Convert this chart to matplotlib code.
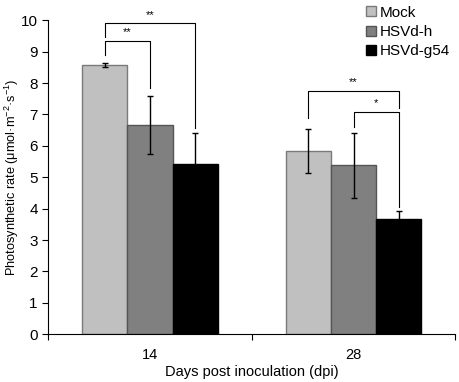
import matplotlib
matplotlib.use('Agg')
from matplotlib import pyplot as plt
import numpy as np

plt.rcParams['font.family'] = ['Liberation Sans', 'DejaVu Sans']
plt.rcParams['mathtext.fontset'] = 'custom'
plt.rcParams['mathtext.rm'] = 'Liberation Sans'
plt.rcParams['mathtext.it'] = 'Liberation Sans'

########
# DATA #
########

days = ['14', '28']
treatments = ['Mock', 'HSVd-h', 'HSVd-g54']
rate = {'Mock':     [8.57, 5.83],
        'HSVd-h':   [6.66, 5.38],
        'HSVd-g54': [5.41, 3.66]}
err = {'Mock':     [0.06, 0.70],
       'HSVd-h':   [0.92, 1.04],
       'HSVd-g54': [0.99, 0.26]}
colors = ['#c0c0c0', '#808080', '#000000']
edges = ['#7a7a7a', '#555555', '#000000']

# significance brackets: (group, bar_a, bar_b, y_bar, y_leg_a, y_leg_b, label)
brackets = [(0, 0, 1, 9.33, 8.88, 7.83, '**'),
            (0, 0, 2, 9.90, 9.47, 6.58, '**'),
            (1, 0, 2, 7.74, 6.90, 7.20, '**'),
            (1, 1, 2, 7.07, 6.60, 4.05, '*')]

########
# PLOT #
########

fig = plt.figure(figsize=(4.59, 3.82), dpi=100)
ax = fig.add_axes([0.105, 0.125, 0.887, 0.822])

x = np.arange(len(days))
w = 0.222
offsets = [-w, 0, w]
for k, t in enumerate(treatments):
    ax.bar(x + offsets[k], rate[t], w, color=colors[k], edgecolor=edges[k],
           linewidth=1.0, label=t, zorder=2)
    ax.errorbar(x + offsets[k], rate[t], yerr=err[t], fmt='none',
                ecolor='k', elinewidth=1.0, capsize=2, capthick=1.0, zorder=3)

for g, a, b, yb, ya, yl, lab in brackets:
    xa = x[g] + offsets[a]
    xb = x[g] + offsets[b]
    ax.plot([xa, xa, xb, xb], [ya, yb, yb, yl], color='k', lw=0.8,
            zorder=4)
    ax.text((xa + xb) / 2, yb + 0.12, lab, ha='center', va='bottom',
            fontsize=8)

ax.set_xlim(-0.5, 1.5)
ax.set_ylim(0, 10)
ax.set_yticks(range(0, 11))
ax.set_xticks([-0.5, 0.5, 1.5])
ax.set_xticklabels([])
ax.set_xticks(x, minor=True)
ax.set_xticklabels(days, minor=True)
ax.tick_params(axis='x', which='minor', length=0, pad=10, labelsize=10.5)
ax.tick_params(axis='x', which='major', length=4, direction='out')
ax.tick_params(axis='y', length=4, direction='out', labelsize=11)
ax.spines['top'].set_visible(False)
ax.spines['right'].set_visible(False)
ax.set_xlabel('Days post inoculation (dpi)', fontsize=10.5, labelpad=2)
ax.set_ylabel('Photosynthetic rate (μmol·m$^{-2}$·s$^{-1}$)', fontsize=9.2)
ax.yaxis.set_label_coords(-0.068, 0.5)

leg = ax.legend(loc='upper right', bbox_to_anchor=(1.02, 1.09), frameon=False,
                fontsize=11, handlelength=0.6, handleheight=0.6,
                handletextpad=0.25, labelspacing=0.35)

plt.savefig('out.png', dpi=100)
plt.close()
